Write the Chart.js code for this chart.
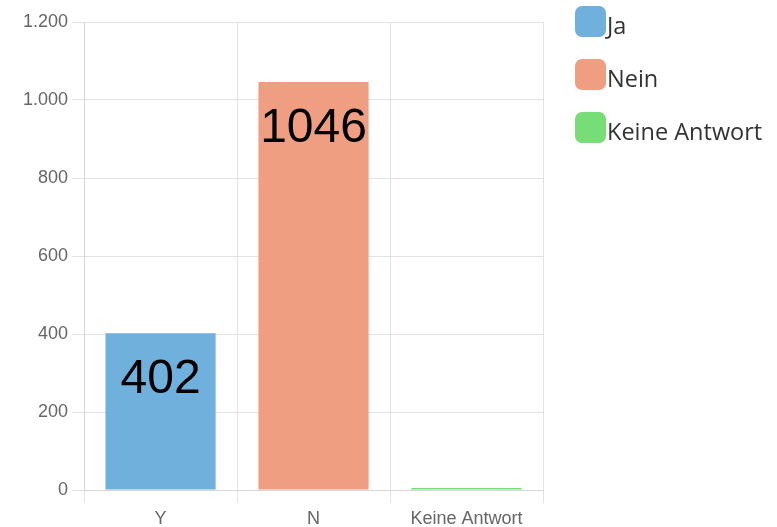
<!DOCTYPE html>
<html>
<head>
<meta charset="utf-8">
<script src="https://cdn.jsdelivr.net/npm/chart.js@4/dist/chart.umd.min.js"></script>
<style>
  html, body { margin: 0; padding: 0; background: #fff; }
  #wrap { position: relative; width: 777px; height: 527px; }
  #legend { position: absolute; left: 575px; top: 6px; margin: 0; padding: 0; list-style: none;
            font-family: "Open Sans", sans-serif; font-size: 23.5px; color: #333; }
  #legend li { display: flex; align-items: center; height: 31px; margin-bottom: 22px; }
  #legend .sw { display: inline-block; width: 31px; height: 31px; border-radius: 7px; margin-right: 1px; }
  #legend .tx { position: relative; top: 3px; }
</style>
</head>
<body>
<div id="wrap"><canvas id="answersChart"></canvas><ul id="legend"></ul></div>
<script>
// categories on the x axis, one legend entry per bar
const categories = ['Y', 'N', 'Keine Antwort'];
const seriesNames = ['Ja', 'Nein', 'Keine Antwort'];
const counts = [402, 1046, 5];
const yTicks = [0, 200, 400, 600, 800, 1000, 1200];

const fillColors = ['rgb(111, 176, 221)', 'rgb(240, 158, 130)', 'rgb(119, 221, 119)'];

// one dataset per answer so each bar gets its own legend entry
const datasets = seriesNames.map(function (name, i) {
  return {
    label: name,
    data: categories.map(function (c, j) { return j === i ? counts[i] : null; }),
    backgroundColor: fillColors[i],
    borderWidth: 0,
    categoryPercentage: 0.72,
    barPercentage: 1.0
  };
});

// draws the count inside the top of each tall bar
const valueLabels = {
  id: 'valueLabels',
  afterDatasetsDraw(chart) {
    const ctx = chart.ctx;
    ctx.save();
    ctx.font = '48px "Liberation Sans", Arial, sans-serif';
    ctx.fillStyle = '#000';
    ctx.textAlign = 'center';
    ctx.textBaseline = 'middle';
    chart.data.datasets.forEach(function (ds, i) {
      chart.getDatasetMeta(i).data.forEach(function (bar, j) {
        const v = ds.data[j];
        if (v == null || v < 100) return;
        ctx.fillText(String(v), bar.x, bar.y + 47);
      });
    });
    ctx.restore();
  }
};

// legend as plain html next to the plot
const legendEl = document.getElementById('legend');
seriesNames.forEach(function (name, i) {
  const li = document.createElement('li');
  const sw = document.createElement('span');
  sw.className = 'sw';
  sw.style.background = fillColors[i];
  const tx = document.createElement('span');
  tx.className = 'tx';
  tx.textContent = name;
  li.appendChild(sw);
  li.appendChild(tx);
  legendEl.appendChild(li);
});

new Chart(document.getElementById('answersChart'), {
  type: 'bar',
  data: { labels: categories, datasets: datasets },
  plugins: [valueLabels],
  options: {
    responsive: true,
    maintainAspectRatio: false,
    animation: false,
    locale: 'de-DE',
    layout: { padding: { top: 22, left: 19, right: 234, bottom: 0 } },
    plugins: {
      tooltip: { enabled: false },
      legend: { display: false }
    },
    scales: {
      x: {
        stacked: true,
        afterFit: function (axis) { axis.height = 37; },
        grid: { color: '#e3e3e3', tickLength: 13, offset: true },
        border: { color: '#d6d6d6' },
        ticks: { color: '#666', font: { family: '"Liberation Sans", Arial, sans-serif', size: 18 }, padding: 5 }
      },
      y: {
        stacked: true,
        min: yTicks[0],
        max: yTicks[yTicks.length - 1],
        afterBuildTicks: function (axis) { axis.ticks = yTicks.map(function (v) { return { value: v }; }); },
        grid: { color: '#e3e3e3', tickLength: 12 },
        border: { color: '#d6d6d6' },
        ticks: { color: '#666', font: { family: '"Liberation Sans", Arial, sans-serif', size: 18 }, padding: 4 }
      }
    }
  }
});
</script>
</body>
</html>
